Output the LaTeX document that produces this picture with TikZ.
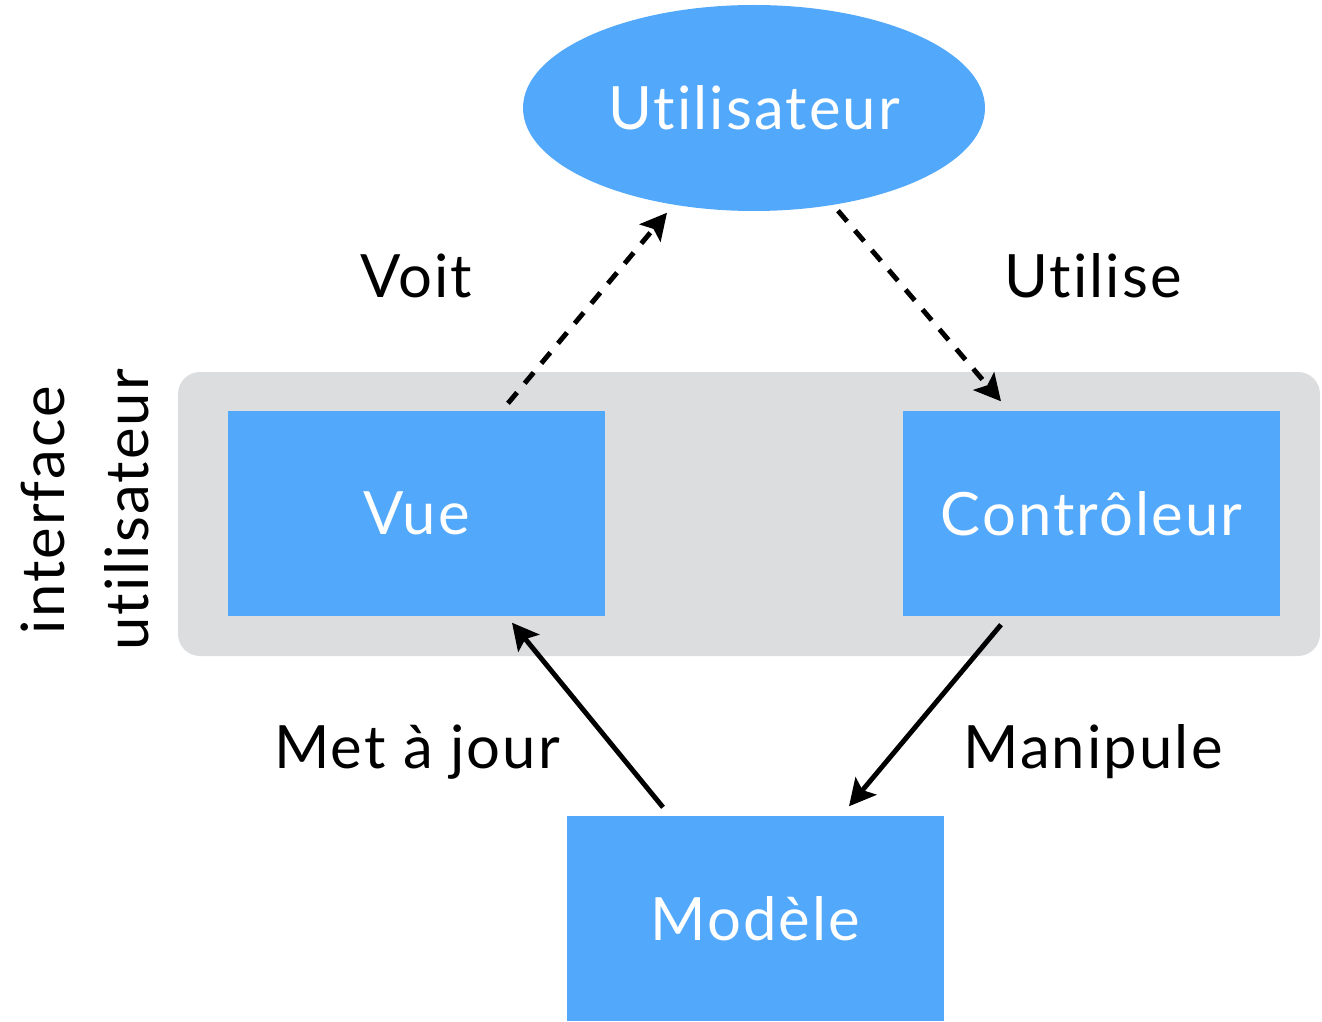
\documentclass[tikz,border=0pt]{standalone}
\usepackage{fontspec}
\setmainfont{Lato}[Ligatures=NoCommon, LetterSpace=3.5]
\usetikzlibrary{shapes.geometric,arrows.meta,calc}
\definecolor{bleumvc}{RGB}{82,168,250}
\definecolor{grisui}{RGB}{220,221,223}
\tikzset{
  bloc/.style={fill=bleumvc, text=white, minimum width=3.77cm, minimum height=2.05cm, inner sep=0pt},
  fleche/.style={line width=1.4pt, -{Stealth[length=7.5pt,width=7.7pt,inset=1.5pt]}},
  pointille/.style={fleche, dash pattern=on 4pt off 3.4pt},
}

\begin{document}
\begin{tikzpicture}[node font=\fontsize{17}{24}\selectfont]
	\useasboundingbox (0,0) rectangle (13.22,10.21);
	\fill [grisui, rounded corners=0.22cm] (1.78,3.65) rectangle (13.20,6.49);
	\node [ellipse, fill=bleumvc, text=white, minimum width=4.62cm, minimum height=2.06cm, inner sep=0pt] (utilisateur) at (7.54,9.13) {Utilisateur};
	\node [bloc] (vue) at (4.165,5.075) {Vue};
	\node [bloc] (controleur) at (10.915,5.075) {Contrôleur};
	\node [bloc] (modele) at (7.555,1.025) {Modèle};
	\node [rotate=90, align=center] (ui) at (0.85,5.11) {interface\\utilisateur};
	% extremites des fleches
	\coordinate (vueout) at ($(vue.north)+(0.915,0.07)$);
	\coordinate (userin) at ($(utilisateur.south)+(-0.87,-0.01)$);
	\coordinate (userout) at ($(utilisateur.south)+(0.84,0.01)$);
	\coordinate (ctrlin) at ($(controleur.north)+(-0.905,0.09)$);
	\coordinate (modout) at ($(modele.north)+(-0.925,0.08)$);
	\coordinate (vuein) at ($(vue.south)+(0.955,-0.06)$);
	\coordinate (ctrlout) at ($(controleur.south)+(-0.905,-0.08)$);
	\coordinate (modin) at ($(modele.north)+(0.935,0.09)$);
	\draw [pointille] (vueout) -- (userin);
	\draw [pointille] (userout) -- (ctrlin);
	\draw [fleche] (modout) -- (vuein);
	\draw [fleche] (ctrlout) -- (modin);
	% etiquettes
	\node [anchor=base] (voit) at (4.16,7.24) {Voit};
	\node [anchor=base] (utilise) at (10.93,7.24) {Utilise};
	\node [anchor=base] (majour) at (4.17,2.53) {Met à jour};
	\node [anchor=base] (manipule) at (10.93,2.53) {Manipule};
\end{tikzpicture}
\end{document}
